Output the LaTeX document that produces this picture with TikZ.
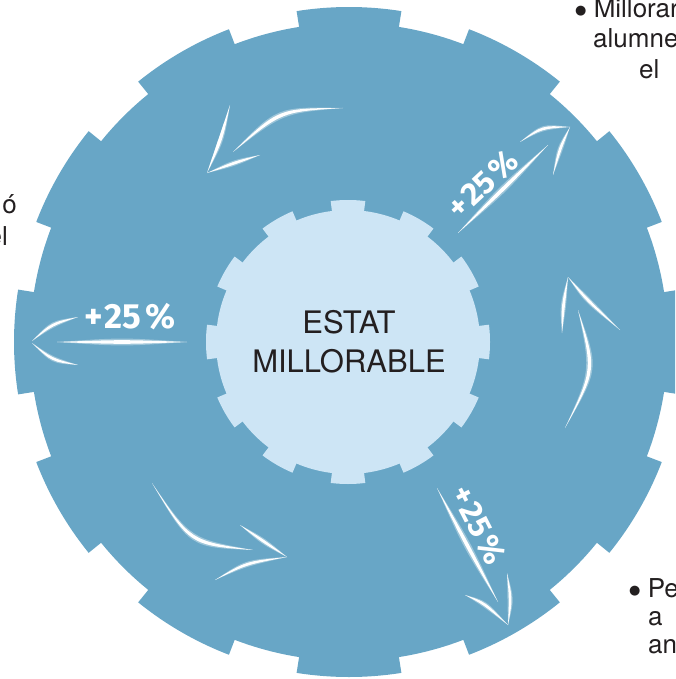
\documentclass[tikz,border=0pt]{standalone}
\usepackage{fontspec}
\setmainfont{TeX Gyre Heros}
\newfontfamily\pctfont{Fira Sans}
\newfontfamily\dotfont{DejaVu Sans}
\usepackage{xcolor}
\usepackage{tikz}
\usetikzlibrary{calc}
\definecolor{gearblue}{HTML}{68A6C6}
\definecolor{hubblue}{HTML}{CDE5F5}
\definecolor{inkgray}{HTML}{231F20}
\tikzset{
gear/.style={fill=gearblue},
hub/.style={fill=hubblue},
chalk/.style={fill=white},
chalkglow/.style={fill=white,opacity=0.35},
pct/.style={text=white,inner sep=0pt,font=\pctfont\bfseries\fontsize{35}{35}\selectfont},
pctsmall/.style={pct,font=\pctfont\bfseries\fontsize{32}{32}\selectfont},
note/.style={text=inkgray,inner sep=0pt,font=\fontsize{26}{30}\selectfont},
title/.style={text=inkgray,inner sep=0pt,align=center,font=\fontsize{31}{39}\selectfont}
}
\newcommand\bul{\raisebox{3pt}{\dotfont\fontsize{13}{13}\selectfont ●}}
\newcommand\pcttext{+\kern1.5pt25\kern3.5pt\%}
% one chalk stroke: start, bend point, end
\newcommand\chalk[4][2.4]{%
  \fill[chalkglow] #2 .. controls ($#3!#1*1.9pt!90:#4$) .. #4
    .. controls ($#3!#1*1.9pt!-90:#4$) .. #2;
  \fill[chalk] #2 .. controls ($#3!#1*1pt!90:#4$) .. #4
    .. controls ($#3!#1*1pt!-90:#4$) .. #2;
}

\begin{document}
\begin{tikzpicture}[x=1pt,y=-1pt]
\useasboundingbox (0,0) rectangle (675,679);
\clip (0,0) rectangle (675,679);

% the outer wheel
\begin{scope}[shift={(349,342)},y=1pt]
\fill[gear] (-9:319)
  \foreach \a in {0,30,...,330}
  {
    -- (\a-9:335) arc[start angle=\a-9,end angle=\a+9,radius=335]
    -- (\a+9:319) arc[start angle=\a+9,end angle=\a+21,radius=319]
  } -- cycle;
\end{scope}

% the hub
\begin{scope}[shift={(348,342)},y=1pt]
\fill[hub] (-7:132)
  \foreach \a in {0,30,...,330}
  {
    -- (\a-7:142) arc[start angle=\a-7,end angle=\a+7,radius=142]
    -- (\a+7:132) arc[start angle=\a+7,end angle=\a+23,radius=132]
  } -- cycle;
\end{scope}

\node[title] (state) at (349,342) {ESTAT\\MILLORABLE};

% the arrows
\chalk{(343,108)}{(280,110)}{(233,152)}
\chalk[1.8]{(230,105)}{(221,140)}{(207,173)}
\chalk[1.8]{(207,173)}{(234,163)}{(260,155)}

\chalk{(458,233)}{(503,189)}{(548,145)}
\chalk[1.8]{(520,142)}{(542,127)}{(570,127)}
\chalk[1.8]{(570,127)}{(560,148)}{(553,175)}

\chalk{(565,428)}{(595,370)}{(578,310)}
\chalk[1.8]{(568,277)}{(563,305)}{(562,333)}
\chalk[1.8]{(568,277)}{(586,299)}{(620,330)}

\chalk{(437,488)}{(467,545)}{(498,602)}
\chalk[1.8]{(465,595)}{(484,603)}{(508,625)}
\chalk[1.8]{(507,573)}{(511,599)}{(508,625)}

\chalk{(187,342)}{(122,342)}{(57,342)}
\chalk[1.8]{(32,341)}{(52,324)}{(78,317)}
\chalk[1.8]{(32,343)}{(52,360)}{(78,365)}

\chalk{(152,483)}{(190,543)}{(253,550)}
\chalk[1.8]{(240,525)}{(263,541)}{(287,557)}
\chalk[1.8]{(215,580)}{(246,563)}{(287,557)}

% the labels
\node[pct,anchor=base] (pctleft) at (130,328) {\pcttext};
\node[pctsmall,anchor=base,rotate=43] (pctup) at (490,192) {\pcttext};
\node[pctsmall,anchor=base,rotate=-63] (pctdown) at (469,530) {\pcttext};

\node[note,anchor=base west] (goalA) at (575,18) {\bul\ Millorar};
\node[note,anchor=base west] (goalB) at (593,48) {alumne};
\node[note,anchor=base west] (goalC) at (639,79) {el};
\node[note,anchor=base west] (riskA) at (629,597) {\bul\ Pe};
\node[note,anchor=base west] (riskB) at (648,625) {a};
\node[note,anchor=base west] (riskC) at (648,653) {an};
\node[note,anchor=base east] (leftA) at (17,213) {ó};
\node[note,anchor=base east] (leftB) at (8,245) {el};
\end{tikzpicture}
\end{document}
